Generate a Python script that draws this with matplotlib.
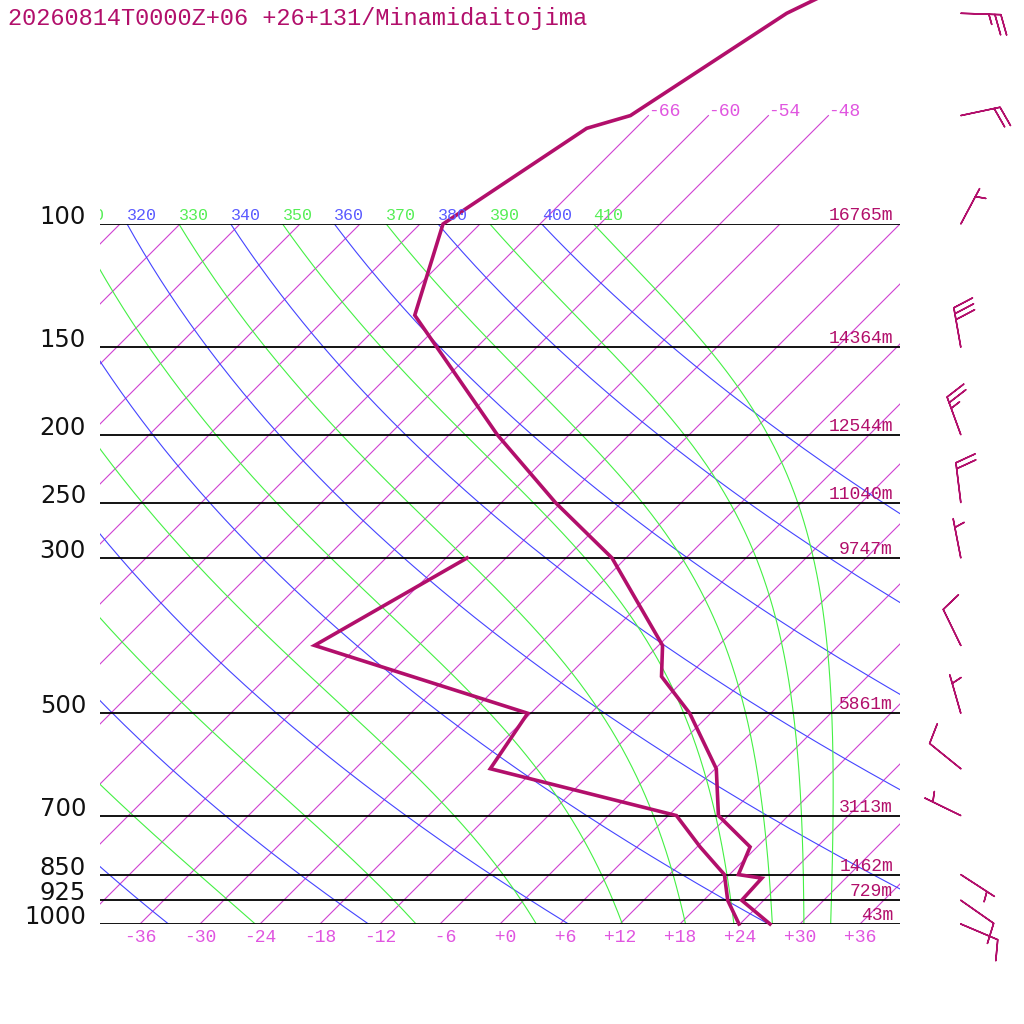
import numpy as np
import matplotlib

matplotlib.use("Agg")
from matplotlib import pyplot as plt
from matplotlib.transforms import Bbox, TransformedBbox

TITLE = "20260814T0000Z+06 +26+131/Minamidaitojima"

# temperature profile (hPa, degC)
temp_pres = [1000, 925, 860, 850, 776, 700, 600, 500, 443, 400, 300, 250, 200, 135, 100, 73, 70, 50, 47]
temp_vals = [27.0, 21.8, 21.6, 18.9, 17.3, 11.0, 6.1, -2.1, -8.6, -11.6, -25.4, -36.6, -49.2, -69.4,
             -75.7, -70.9, -67.8, -62.4, -60.4]

# dewpoint profile (hPa, degC)
dewp_pres = [1000, 925, 850, 776, 700, 600, 500, 400, 300]
dewp_vals = [23.9, 20.4, 17.5, 12.3, 6.8, -16.5, -18.3, -46.4, -39.9]

# winds: pressure (hPa), direction (deg), speed (kt)
wind_pres = [50, 70, 100, 150, 200, 250, 300, 400, 500, 600, 700, 850, 925, 1000]
wind_dir = [92, 78, 28, 350, 340, 353, 349, 334, 344, 309, 296, 123, 125, 113]
wind_spd = [25, 20, 5, 30, 25, 20, 5, 10, 5, 10, 5, 5, 10, 10]

# mandatory levels and their geopotential heights
level_pres = [100, 150, 200, 250, 300, 500, 700, 850, 925, 1000]
level_hgt = ["16765m", "14364m", "12544m", "11040m", "9747m", "5861m", "3113m", "1462m", "729m", "43m"]

isotherms = list(range(-108, 37, 6))
top_isotherms = [-66, -60, -54, -48]
dry_thetas = list(range(240, 401, 20))
moist_thetas = list(range(250, 411, 20))
labelled_thetas = list(range(310, 411, 10))
tick_temps = list(range(-36, 37, 6))

SKEW = 30.4  # degC per e-fold of pressure
RD, CPD, LV, EPS = 287.04, 1005.7, 2.501e6, 0.622
KAPPA = RD / CPD

dark = "#b20f6b"
iso_color = "#cf42d2"
iso_text = "#e055e0"
blue = "#4444ff"
green = "#44f044"
mono = "Liberation Mono"


def skew_x(t, p):
    return np.asarray(t) + SKEW * np.log(1000.0 / np.asarray(p, dtype=float))


def moist_profile(theta, pres):
    # integrate the pseudo-adiabat down from the first level
    def rate(t, p):
        es = 6.112 * np.exp(17.67 * (t - 273.15) / (t - 29.65))
        rs = EPS * es / (p - es)
        return (RD * t + LV * rs) / (CPD + LV * LV * rs * EPS / (RD * t * t))

    t = theta * (pres[0] / 1000.0) ** KAPPA
    out = [t]
    for p0, p1 in zip(pres[:-1], pres[1:]):
        h = np.log(p1) - np.log(p0)
        pm = np.exp(np.log(p0) + h / 2)
        k1 = rate(t, p0)
        k2 = rate(t + h * k1 / 2, pm)
        k3 = rate(t + h * k2 / 2, pm)
        k4 = rate(t + h * k3, p1)
        t = t + h * (k1 + 2 * k2 + 2 * k3 + k4) / 6
        out.append(t)
    return np.array(out) - 273.15


fig = plt.figure(figsize=(10.24, 10.24), dpi=100)
fig.patch.set_facecolor("white")
ax = fig.add_axes([100 / 1024, 100 / 1024, 800 / 1024, 700 / 1024])
ax.set_yscale("log")
ax.set_ylim(1000, 100)
ax.set_xlim(-40, 40)
ax.set_axis_off()

pres = np.geomspace(100, 1000, 300)

for t in isotherms:
    ax.plot(skew_x(t, pres), pres, color=iso_color, lw=0.8)
top_pres = np.geomspace(70, 100, 20)
for t in top_isotherms:
    ax.plot(skew_x(t, top_pres), top_pres, color=iso_color, lw=0.8, clip_on=False)
    ax.annotate(f"{t:d}", xy=(skew_x(t, 70), 70), xytext=(0, 0), textcoords="offset points",
                ha="left", va="baseline", color=iso_text, fontsize=13, family=mono,
                annotation_clip=False)

for th in dry_thetas:
    tc = th * (pres / 1000.0) ** KAPPA - 273.15
    ax.plot(skew_x(tc, pres), pres, color=blue, lw=0.8)
for th in moist_thetas:
    tc = moist_profile(th, pres)
    ax.plot(skew_x(tc, pres), pres, color=green, lw=0.8)

# theta labels sit on the 100 hPa line, cut at the left edge of the diagram
label_clip = TransformedBbox(Bbox([[0, 0], [1.2, 1.3]]), ax.transAxes)
for th in labelled_thetas:
    t100 = th * 0.1 ** KAPPA - 273.15
    txt = ax.annotate(str(th), xy=(skew_x(t100, 100), 100), xytext=(0, 2.9),
                      textcoords="offset points", ha="left", va="baseline",
                      color="#5a5aff" if th in dry_thetas else "#55ee55",
                      fontsize=12, family=mono, annotation_clip=False)
    txt.set_clip_box(label_clip)
    txt.set_clip_on(True)

ax.hlines(level_pres, -40, 40, colors="black", lw=1.3)

for p, h in zip(level_pres, level_hgt):
    ax.annotate(h, xy=(39.3, p), xytext=(0, 2.9), textcoords="offset points",
                ha="right", va="baseline", color=dark, fontsize=13, family=mono)
    ax.text(-0.0175, p, str(p), transform=ax.get_yaxis_transform(), ha="right",
            va="baseline", fontsize=17.5, color="#111111")

for t in tick_temps:
    ax.annotate(f"{t:+3d}", xy=(t, 1000), xytext=(0, -9.4), textcoords="offset points",
                ha="center", va="center", color=iso_text, fontsize=13, family=mono,
                annotation_clip=False)

ax.plot(skew_x(dewp_vals, dewp_pres), dewp_pres, color=dark, lw=2.6, clip_on=False,
        solid_joinstyle="miter")
ax.plot(skew_x(temp_vals, temp_pres), temp_pres, color=dark, lw=2.6, clip_on=False,
        solid_joinstyle="miter")

wd = np.radians(wind_dir)
u = -np.array(wind_spd) * np.sin(wd)
v = -np.array(wind_spd) * np.cos(wd)
ax.barbs(np.full(len(wind_pres), 1.076), wind_pres, u, v, transform=ax.get_yaxis_transform(),
         length=7.6, sizes=dict(spacing=0.15, height=0.5, width=0.32), color=dark,
         linewidth=1.1, clip_on=False)

fig.text(8 / 1024, 1 - 18 / 1024, TITLE, ha="left", va="center", fontsize=17,
         family=mono, color=dark)

fig.savefig("out.png", dpi=100, facecolor="white")
